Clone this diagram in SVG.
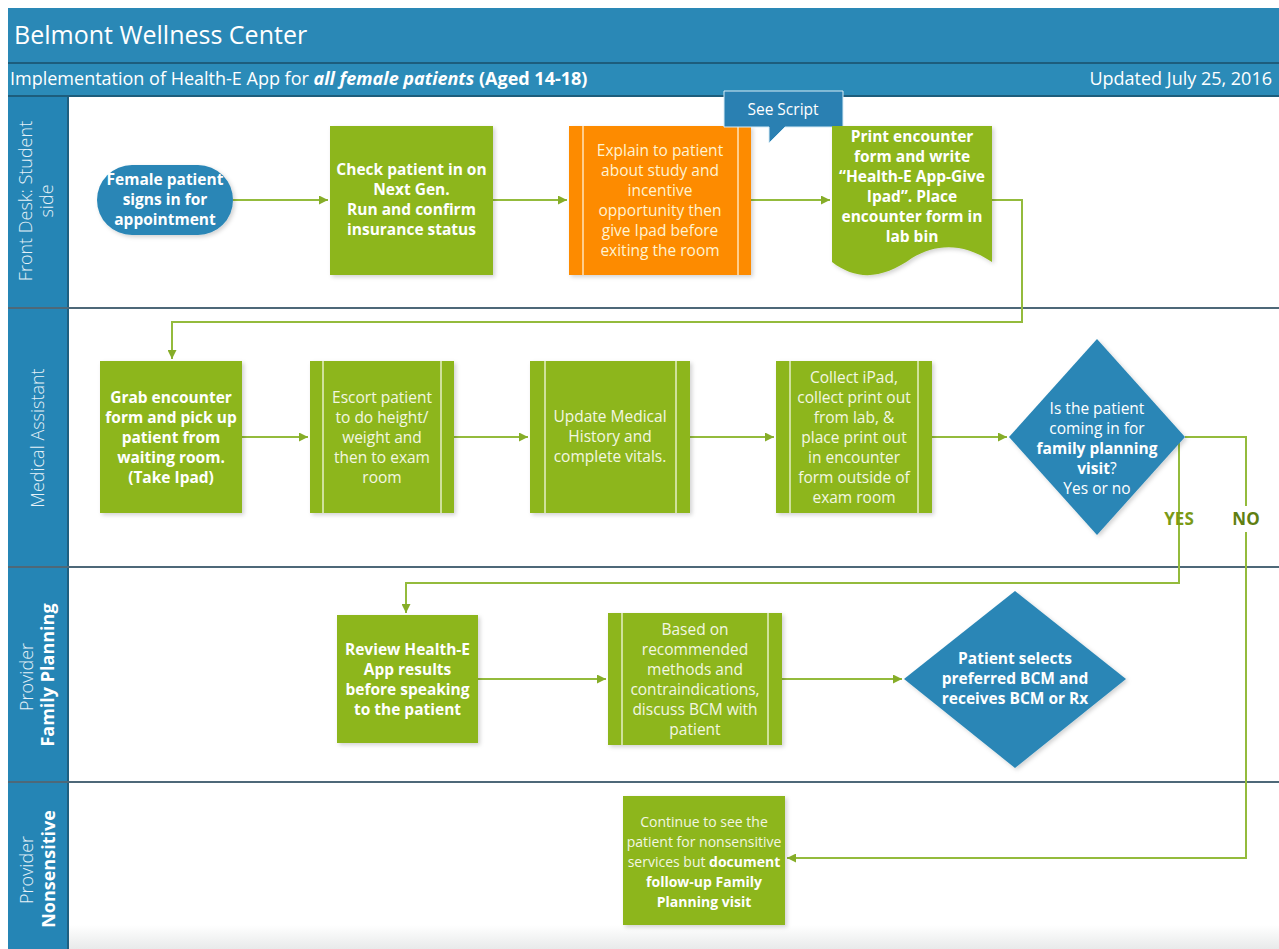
<svg xmlns="http://www.w3.org/2000/svg" width="1279" height="949" viewBox="0 0 1279 949">
<defs>
<style>
text{font-family:"Open Sans","Noto Sans",sans-serif;}
.hdr{fill:#ffffff;}
.ll{fill:#e6f1f8;font-size:18px;font-weight:300;text-anchor:middle}
.lb{fill:#ffffff;font-size:18px;font-weight:700;text-anchor:middle}
.nt{font-size:15.5px;text-anchor:middle;fill:#f3f7e2}
.ot{font-size:15.5px;text-anchor:middle;fill:#fff3d2}
.wt{font-size:15.5px;text-anchor:middle;fill:#ffffff}
.b{font-weight:700;fill:#ffffff}
.green{fill:#8db61f}
.blue{fill:#2a86b6}
.orange{fill:#fd8b05}
.inner{stroke:#e6efc4;stroke-width:1.5;fill:none}
.conn{fill:none;stroke:#94bb3c;stroke-width:2}
.sep{stroke:#4e6878;stroke-width:2}
.lab{font-size:17px;font-weight:700;fill:#7a9a16;text-anchor:middle}
</style>
<marker id="ah" viewBox="0 0 10 10" refX="10" refY="5" markerWidth="9" markerHeight="9" markerUnits="userSpaceOnUse" orient="auto"><path d="M0,0 L10,5 L0,10 Z" fill="#86ad28"/></marker>
<filter id="sh" x="-10%" y="-10%" width="125%" height="125%"><feDropShadow dx="2" dy="2" stdDeviation="2" flood-color="#000" flood-opacity="0.18"/></filter>
<linearGradient id="fade" x1="0" y1="0" x2="0" y2="1"><stop offset="0" stop-color="#ffffff"/><stop offset="1" stop-color="#e8eaea"/></linearGradient>
</defs>
<rect x="0" y="0" width="1279" height="949" fill="#ffffff"/>

<g id="header">
<rect x="8" y="8" width="1271" height="55" fill="#2a88b6"/>
<rect x="8" y="62" width="1271" height="2" fill="#1d5d7c"/>
<rect x="8" y="64" width="1271" height="31" fill="#2b8bb8"/>
<rect x="8" y="95" width="1271" height="2" fill="#1d5d7c"/>
<text class="hdr" x="14" y="44" font-size="25">Belmont Wellness Center</text>
<text class="hdr" x="10" y="85" font-size="18">Implementation of Health-E App for <tspan font-weight="700" font-style="italic">all female patients</tspan><tspan font-weight="700"> (Aged 14-18)</tspan></text>
<text class="hdr" x="1272" y="85" font-size="18" text-anchor="end">Updated July 25, 2016</text>
</g>

<g id="lanes">
<rect x="68" y="925" width="1211" height="24" fill="url(#fade)"/>
<rect x="8" y="97" width="60" height="852" fill="#2585b5"/>
<line x1="68" y1="97" x2="68" y2="949" stroke="#1f5f80" stroke-width="2"/>
<line class="sep" x1="8" y1="308" x2="1279" y2="308"/>
<line class="sep" x1="8" y1="567" x2="1279" y2="567"/>
<line class="sep" x1="8" y1="782" x2="1279" y2="782"/>
<text class="ll" transform="translate(32,201) rotate(-90)">Front Desk: Student</text>
<text class="ll" transform="translate(53,201) rotate(-90)">side</text>
<text class="ll" transform="translate(44,438) rotate(-90)">Medical Assistant</text>
<text class="ll" transform="translate(33,677) rotate(-90)">Provider</text>
<text class="lb" transform="translate(54,675) rotate(-90)">Family Planning</text>
<text class="ll" transform="translate(33,870) rotate(-90)">Provider</text>
<text class="lb" transform="translate(55,869) rotate(-90)">Nonsensitive</text>
</g>

<g id="connectors">
<path class="conn" d="M233,200 H328" marker-end="url(#ah)"/>
<path class="conn" d="M493,200 H567" marker-end="url(#ah)"/>
<path class="conn" d="M751,200 H830" marker-end="url(#ah)"/>
<path class="conn" d="M992,200 H1022 V322 H172 V359" marker-end="url(#ah)"/>
<path class="conn" d="M242,437 H308" marker-end="url(#ah)"/>
<path class="conn" d="M454,437 H528" marker-end="url(#ah)"/>
<path class="conn" d="M690,437 H774" marker-end="url(#ah)"/>
<path class="conn" d="M932,437 H1007" marker-end="url(#ah)"/>
<path class="conn" d="M1179,441 V583 H406 V613" marker-end="url(#ah)"/>
<path class="conn" d="M1185,437 H1246 V858 H787" marker-end="url(#ah)"/>
<path class="conn" d="M478,679 H606" marker-end="url(#ah)"/>
<path class="conn" d="M782,679 H902" marker-end="url(#ah)"/>
<text class="lab" x="1179" y="525">YES</text>
<rect x="1224" y="506" width="40" height="26" fill="#ffffff"/>
<text class="lab" x="1246" y="525" style="fill:#5f7f12">NO</text>
</g>

<g id="n-signin">
<rect class="blue" x="97" y="165" width="136" height="70" rx="35" filter="url(#sh)"/>
<text class="wt b"><tspan x="165" y="185">Female patient</tspan><tspan x="165" y="205">signs in for</tspan><tspan x="165" y="225">appointment</tspan></text>
</g>

<g id="n-checkin">
<rect class="green" x="330" y="126" width="163" height="149" filter="url(#sh)"/>
<text class="wt b"><tspan x="411.5" y="175">Check patient in on</tspan><tspan x="411.5" y="195">Next Gen.</tspan><tspan x="411.5" y="215">Run and confirm</tspan><tspan x="411.5" y="235">insurance status</tspan></text>
</g>

<g id="n-explain">
<rect class="orange" x="569" y="126" width="182" height="149" filter="url(#sh)"/>
<line x1="583" y1="126" x2="583" y2="275" stroke="#ffe3b8" stroke-width="1.5"/>
<line x1="738" y1="126" x2="738" y2="275" stroke="#ffe3b8" stroke-width="1.5"/>
<text class="ot"><tspan x="660" y="156">Explain to patient</tspan><tspan x="660" y="176">about study and</tspan><tspan x="660" y="196">incentive</tspan><tspan x="660" y="216">opportunity then</tspan><tspan x="660" y="236">give Ipad before</tspan><tspan x="660" y="256">exiting the room</tspan></text>
</g>

<g id="n-script">
<path d="M724,91 H843 V127 H785 L769,143 L769,127 H724 Z" fill="#2a80b2" stroke="#d8ecf6" stroke-width="1"/>
<text class="wt" x="783" y="115">See Script</text>
</g>

<g id="n-print">
<path class="green" d="M832,126 H992 V262 C962,242 936,244 912,258 C884,278 858,282 832,262 Z" filter="url(#sh)"/>
<text class="wt b"><tspan x="912" y="142">Print encounter</tspan><tspan x="912" y="162">form and write</tspan><tspan x="912" y="182">“Health-E App-Give</tspan><tspan x="912" y="202">Ipad”. Place</tspan><tspan x="912" y="222">encounter form in</tspan><tspan x="912" y="242">lab bin</tspan></text>
</g>

<g id="n-grab">
<rect class="green" x="100" y="361" width="142" height="152" filter="url(#sh)"/>
<text class="wt b"><tspan x="171" y="403">Grab encounter</tspan><tspan x="171" y="423">form and pick up</tspan><tspan x="171" y="443">patient from</tspan><tspan x="171" y="463">waiting room.</tspan><tspan x="171" y="483">(Take Ipad)</tspan></text>
</g>

<g id="n-escort">
<rect class="green" x="310" y="361" width="144" height="152" filter="url(#sh)"/>
<line class="inner" x1="323" y1="361" x2="323" y2="513"/>
<line class="inner" x1="441" y1="361" x2="441" y2="513"/>
<text class="nt"><tspan x="382" y="403">Escort patient</tspan><tspan x="382" y="423">to do height/</tspan><tspan x="382" y="443">weight and</tspan><tspan x="382" y="463">then to exam</tspan><tspan x="382" y="483">room</tspan></text>
</g>

<g id="n-update">
<rect class="green" x="530" y="361" width="160" height="152" filter="url(#sh)"/>
<line class="inner" x1="545" y1="361" x2="545" y2="513"/>
<line class="inner" x1="676" y1="361" x2="676" y2="513"/>
<text class="nt"><tspan x="610" y="422">Update Medical</tspan><tspan x="610" y="442">History and</tspan><tspan x="610" y="462">complete vitals.</tspan></text>
</g>

<g id="n-collect">
<rect class="green" x="776" y="361" width="156" height="152" filter="url(#sh)"/>
<line class="inner" x1="790" y1="361" x2="790" y2="513"/>
<line class="inner" x1="918" y1="361" x2="918" y2="513"/>
<text class="nt"><tspan x="854" y="383">Collect iPad,</tspan><tspan x="854" y="403">collect print out</tspan><tspan x="854" y="423">from lab, &amp;</tspan><tspan x="854" y="443">place print out</tspan><tspan x="854" y="463">in encounter</tspan><tspan x="854" y="483">form outside of</tspan><tspan x="854" y="503">exam room</tspan></text>
</g>

<g id="n-decision">
<polygon class="blue" points="1097,339 1185,437 1097,535 1009,437" filter="url(#sh)"/>
<text class="wt"><tspan x="1097" y="414">Is the patient</tspan><tspan x="1097" y="434">coming in for</tspan><tspan x="1097" y="454" font-weight="700">family planning</tspan><tspan x="1097" y="474"><tspan font-weight="700">visit</tspan>?</tspan><tspan x="1097" y="494">Yes or no</tspan></text>
</g>

<g id="n-review">
<rect class="green" x="337" y="615" width="141" height="128" filter="url(#sh)"/>
<text class="wt b"><tspan x="407.5" y="655">Review Health-E</tspan><tspan x="407.5" y="675">App results</tspan><tspan x="407.5" y="695">before speaking</tspan><tspan x="407.5" y="715">to the patient</tspan></text>
</g>

<g id="n-based">
<rect class="green" x="608" y="613" width="174" height="132" filter="url(#sh)"/>
<line class="inner" x1="622" y1="613" x2="622" y2="745"/>
<line class="inner" x1="768" y1="613" x2="768" y2="745"/>
<text class="nt"><tspan x="695" y="635">Based on</tspan><tspan x="695" y="655">recommended</tspan><tspan x="695" y="675">methods and</tspan><tspan x="695" y="695">contraindications,</tspan><tspan x="695" y="715">discuss BCM with</tspan><tspan x="695" y="735">patient</tspan></text>
</g>

<g id="n-selects">
<polygon class="blue" points="1015,591 1126,679 1015,768 904,679" filter="url(#sh)"/>
<text class="wt b"><tspan x="1015" y="664">Patient selects</tspan><tspan x="1015" y="684">preferred BCM and</tspan><tspan x="1015" y="704">receives BCM or Rx</tspan></text>
</g>

<g id="n-continue">
<rect class="green" x="623" y="796" width="162" height="129" filter="url(#sh)"/>
<text class="nt" style="font-size:14px"><tspan x="704" y="827">Continue to see the</tspan><tspan x="704" y="847">patient for nonsensitive</tspan><tspan x="704" y="867">services but <tspan class="b">document</tspan></tspan><tspan x="704" y="887" class="b">follow-up Family</tspan><tspan x="704" y="907" class="b">Planning visit</tspan></text>
</g>
</svg>
